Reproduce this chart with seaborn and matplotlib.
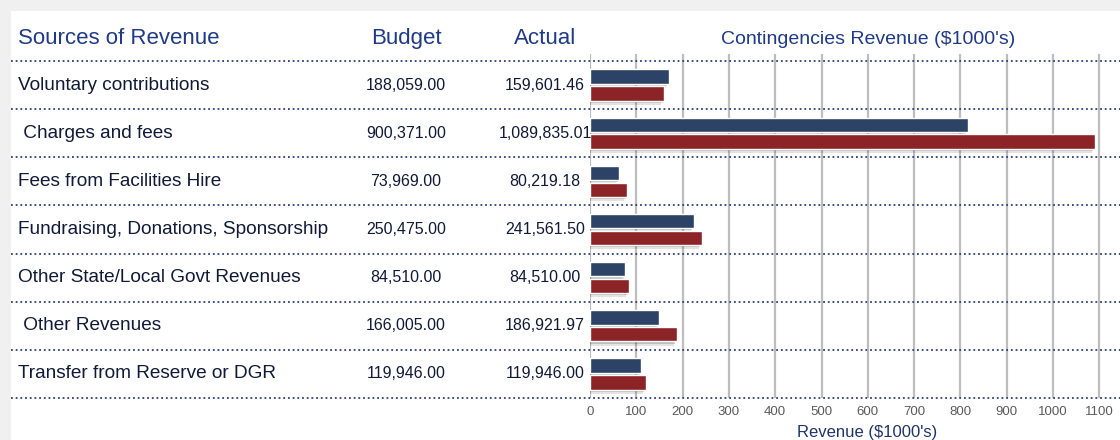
"""Contingencies revenue table with budget vs actual bars."""

import seaborn as sns
import matplotlib.pyplot as plt
import matplotlib.patheffects as pe
import pandas as pd
from matplotlib.patches import Rectangle
from matplotlib.transforms import blended_transform_factory

# ---- data -------------------------------------------------------------
sources = [
    "Voluntary contributions",
    " Charges and fees",
    "Fees from Facilities Hire",
    "Fundraising, Donations, Sponsorship",
    "Other State/Local Govt Revenues",
    " Other Revenues",
    "Transfer from Reserve or DGR",
]
budget = [188059.00, 900371.00, 73969.00, 250475.00, 84510.00, 166005.00, 119946.00]
actual = [159601.46, 1089835.01, 80219.18, 241561.50, 84510.00, 186921.97, 119946.00]

# bar lengths ($1000's)
budget_bar = [170, 816, 63, 224, 76, 149, 111]
actual_bar = [159.6, 1089.8, 80.2, 241.6, 84.5, 186.9, 119.9]

x_ticks = [0, 100, 200, 300, 400, 500, 600, 700, 800, 900, 1000, 1100]

# ---- style ------------------------------------------------------------
sns.set_theme(style="white")
plt.rcParams["font.family"] = ["Liberation Sans", "DejaVu Sans"]

NAVY = "#2c4266"
RED = "#8c2326"
HEAD = "#1f3a86"
TEXT = "#101a36"
DOT = "#2b3f7c"

W, H = 1120, 440
fig = plt.figure(figsize=(W / 100, H / 100), dpi=100)
fig.patch.set_facecolor("#f0f0f0")
fig.add_artist(Rectangle((11 / W, 0), 1, 1 - 11 / H, transform=fig.transFigure,
                         facecolor="white", edgecolor="none", zorder=-10))

# chart axes: 0 at x=590px, rows from y=61px to 398px
row_px = (398 - 61) / 7
ax = fig.add_axes([590 / W, 1 - 398 / H, 530 / W, (398 - 54) / H])
ax.set_facecolor("none")

df = pd.DataFrame({
    "source": sources * 2,
    "series": ["Budget"] * len(sources) + ["Actual"] * len(sources),
    "value": budget_bar + actual_bar,
})

sns.barplot(data=df, y="source", x="value", hue="series", orient="h",
            palette=[NAVY, RED], width=0.7, gap=0.14, legend=False,
            saturation=1, ax=ax, zorder=3)

# soft drop shadow under each bar
for p in ax.patches:
    p.set_path_effects([
        pe.SimplePatchShadow(offset=(-2, -3), shadow_rgbFace="k", alpha=0.12),
        pe.SimplePatchShadow(offset=(-1, -1.5), shadow_rgbFace="k", alpha=0.18),
        pe.Normal(),
    ])

ax.set_xlim(0, 530 / 0.463)
ax.set_ylim(6.5, -0.5 - 7 / row_px)
ax.set_xticks(x_ticks)
ax.set_xticklabels([str(t) for t in x_ticks], fontsize=9.5, color="#5a5a5a")
ax.tick_params(axis="x", length=0, pad=6)
ax.set_yticks([])
ax.set_xlabel("")
ax.set_ylabel("")
for s in ax.spines.values():
    s.set_visible(False)
for t in x_ticks:
    ax.axvline(t, color="#bdbdbd", lw=1.6, zorder=1)

# ---- table (x in figure coords, y in row coords) ----------------------
trans = blended_transform_factory(fig.transFigure, ax.transData)

for i in range(len(sources) + 1):
    ax.plot([11 / W, 1], [i - 0.5, i - 0.5], transform=trans, clip_on=False,
            color=DOT, lw=1.3, ls=(0, (1, 1.6)), zorder=2)

for i, name in enumerate(sources):
    fig.text(18 / W, i, name, transform=trans, ha="left", va="center",
             fontsize=13.7, color=TEXT)
    fig.text(406 / W, i, f"{budget[i]:,.2f}", transform=trans, ha="center",
             va="center", fontsize=11.5, color=TEXT)
    fig.text(545 / W, i, f"{actual[i]:,.2f}", transform=trans, ha="center",
             va="center", fontsize=11.5, color=TEXT)

head_y = -0.5 - 17 / row_px
fig.text(18 / W, head_y, "Sources of Revenue", transform=trans, ha="left",
         va="baseline", fontsize=16, color=HEAD)
fig.text(406 / W, head_y, "Budget", transform=trans, ha="center",
         va="baseline", fontsize=16, color=HEAD)
fig.text(545 / W, head_y, "Actual", transform=trans, ha="center",
         va="baseline", fontsize=16, color=HEAD)
fig.text(868 / W, head_y, "Contingencies Revenue ($1000's)", transform=trans,
         ha="center", va="baseline", fontsize=14, color=HEAD)

fig.text(867 / W, 1 - 432 / H, "Revenue ($1000's)", ha="center", va="center",
         fontsize=12, color="#1f3566")

fig.savefig("out.png", dpi=100)
